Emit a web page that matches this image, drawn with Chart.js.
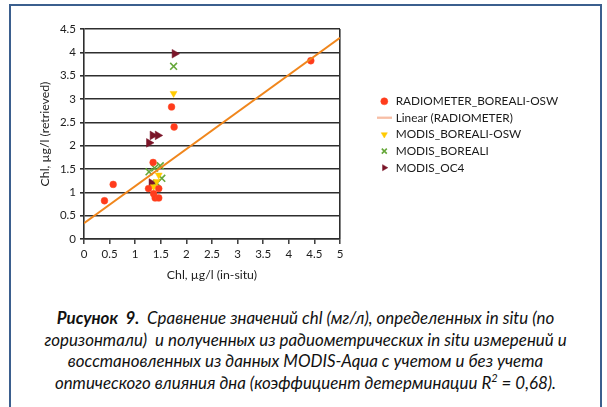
<!DOCTYPE html>
<html>
<head>
<meta charset="utf-8">
<script src="https://cdn.jsdelivr.net/npm/chart.js@4"></script>
<style>
  html, body { margin: 0; padding: 0; background: #ffffff; }
  body { width: 607px; height: 407px; position: relative; overflow: hidden; }
  #frame { position: absolute; left: 9px; top: 4px; width: 589px; height: 420px;
           border: 2px solid #3b5f8e; border-bottom: none; }
  #c { position: absolute; left: 0; top: 0; }
  #caption { position: absolute; left: 11px; top: 307px; width: 589px; text-align: center;
             font-family: Lato, "Noto Sans", sans-serif; font-style: italic; font-size: 16.9px;
             line-height: 21.7px; color: #111; white-space: nowrap; }
</style>
</head>
<body>
<div id="frame"></div>
<canvas id="c" width="607" height="290"></canvas>
<div id="caption"><b>Рисунок&nbsp; 9.</b>&nbsp; Сравнение значений chl (мг/л), определенных in situ (по<br>горизонтали)&nbsp; и полученных из радиометрических in situ измерений и<br>восстановленных из данных MODIS-Aqua с учетом и без учета<br>оптического влияния дна (коэффициент детерминации R<sup style="font-size:11px;line-height:0">2</sup> = 0,68).</div>
<script>
// ---- data ----
const seriesNames = ['RADIOMETER_BOREALI-OSW', 'Linear (RADIOMETER)', 'MODIS_BOREALI-OSW', 'MODIS_BOREALI', 'MODIS_OC4'];

const radiometerX = [0.40, 0.57, 1.35, 1.26, 1.46, 1.36, 1.39, 1.46, 1.71, 1.76, 4.43];
const radiometerY = [0.82, 1.17, 1.64, 1.08, 1.08, 0.97, 0.88, 0.88, 2.83, 2.40, 3.82];

const trendX = [0, 5];
const trendY = [0.34, 4.31];

const borealiOswX = [1.75, 1.46, 1.42, 1.36];
const borealiOswY = [3.12, 1.37, 1.23, 1.12];

const borealiX = [1.75, 1.27, 1.38, 1.49, 1.52, 1.42];
const borealiY = [3.70, 1.44, 1.52, 1.57, 1.30, 1.20];

const oc4X = [1.77, 1.27, 1.34, 1.44, 1.32];
const oc4Y = [3.97, 2.06, 2.22, 2.22, 1.20];

const xTickLabels = ['0', '0.5', '1', '1.5', '2', '2.5', '3', '3.5', '4', '4.5', '5'];
const yTickLabels = ['0', '0.5', '1', '1.5', '2', '2.5', '3', '3.5', '4', '4.5'];

const xTitle = 'Chl, µg/l (in-situ)';
const yTitle = 'Chl, µg/l (retrieved)';

// ---- chart ----
const pts = (xs, ys) => xs.map((x, i) => ({ x: x, y: ys[i] }));

Chart.defaults.font.family = 'Lato, "Noto Sans", sans-serif';
Chart.defaults.color = '#1e1e1e';

const GRID = '#2e2e2e';

// small line image for the trendline legend entry
const lineMark = document.createElement('canvas');
lineMark.width = 15; lineMark.height = 3;
(function () {
  const g = lineMark.getContext('2d');
  g.strokeStyle = '#f3a07e'; g.lineWidth = 1.6;
  g.beginPath(); g.moveTo(0, 1.5); g.lineTo(15, 1.5); g.stroke();
})();

const legendPlace = {
  id: 'legendPlace',
  afterInit(chart) {
    const lg = chart.legend;
    const orig = lg.fit;
    lg.fit = function () { orig.call(this); this.width = 267; };
  },
  afterLayout(chart) {
    const lg = chart.legend;
    lg.left = 374; lg.right = 607;
    lg.top = 29; lg.bottom = 240;
  }
};

new Chart(document.getElementById('c'), {
  type: 'scatter',
  data: {
    datasets: [
      { label: seriesNames[0], data: pts(radiometerX, radiometerY), pointStyle: 'circle',
        pointRadius: 3.4, backgroundColor: '#ff3b1c', borderColor: '#ff4a24', borderWidth: 0.5, order: 2 },
      { label: seriesNames[1], type: 'line', data: pts(trendX, trendY), pointStyle: 'line',
        pointRadius: 0, borderColor: '#f0861c', backgroundColor: '#f0861c', borderWidth: 2, showLine: true,
        fill: false, order: 1 },
      { label: seriesNames[2], data: pts(borealiOswX, borealiOswY), pointStyle: 'triangle', rotation: 180,
        pointRadius: 4, backgroundColor: '#ffcc00', borderColor: '#ffc400', borderWidth: 0.5, order: 3 },
      { label: seriesNames[3], data: pts(borealiX, borealiY), pointStyle: 'crossRot',
        pointRadius: 4.8, backgroundColor: '#66a83a', borderColor: '#66a83a', borderWidth: 1.6, order: 4 },
      { label: seriesNames[4], data: pts(oc4X, oc4Y), pointStyle: 'triangle', rotation: 90,
        pointRadius: 5, backgroundColor: '#7a1528', borderColor: '#7a1528', borderWidth: 0.5, order: 5 }
    ]
  },
  options: {
    responsive: false,
    devicePixelRatio: 1,
    animation: false,
    layout: { padding: { left: 34, top: 29, right: 0, bottom: 4 } },
    plugins: {
      tooltip: { enabled: false },
      legend: {
        position: 'right',
        align: 'center',
        labels: {
          usePointStyle: true,
          boxWidth: 11,
          boxHeight: 5,
          padding: 4.8,
          color: '#1a1a1a',
          font: { size: 11.8 },
          generateLabels(chart) {
            const items = Chart.defaults.plugins.legend.labels.generateLabels(chart);
            items.sort((a, b) => a.datasetIndex - b.datasetIndex);
            items.forEach(it => { if (it.datasetIndex === 1) it.pointStyle = lineMark; });
            return items;
          }
        }
      }
    },
    scales: {
      x: {
        type: 'linear', min: 0, max: 5,
        afterFit(s) { s.height = 47; },
        ticks: { stepSize: 0.5, autoSkip: false, maxRotation: 0, padding: 3, color: '#1e1e1e',
                 font: { size: 11.5 }, callback: (v, i) => xTickLabels[i] },
        grid: {
          drawTicks: true, tickLength: 5, tickColor: GRID, tickWidth: 1.4,
          color: ctx => (ctx.tick && ctx.tick.value === 5) ? GRID : 'rgba(0,0,0,0)',
          lineWidth: 1.6
        },
        border: { display: true, color: GRID, width: 1.6 },
        title: { display: true, text: xTitle, font: { size: 12.3 }, color: '#1e1e1e' }
      },
      y: {
        type: 'linear', min: 0, max: 4.5,
        afterFit(s) { s.width = 50; },
        ticks: { stepSize: 0.5, autoSkip: false, padding: 4, color: '#1e1e1e',
                 font: { size: 11.5 }, callback: (v, i) => yTickLabels[i] },
        grid: { drawTicks: true, tickLength: 4, tickColor: GRID, color: GRID, lineWidth: 1.6 },
        border: { display: true, color: GRID, width: 1.6 },
        title: { display: true, text: yTitle, font: { size: 12.3 }, color: '#1e1e1e' }
      }
    }
  },
  plugins: [legendPlace]
});
</script>
</body>
</html>
